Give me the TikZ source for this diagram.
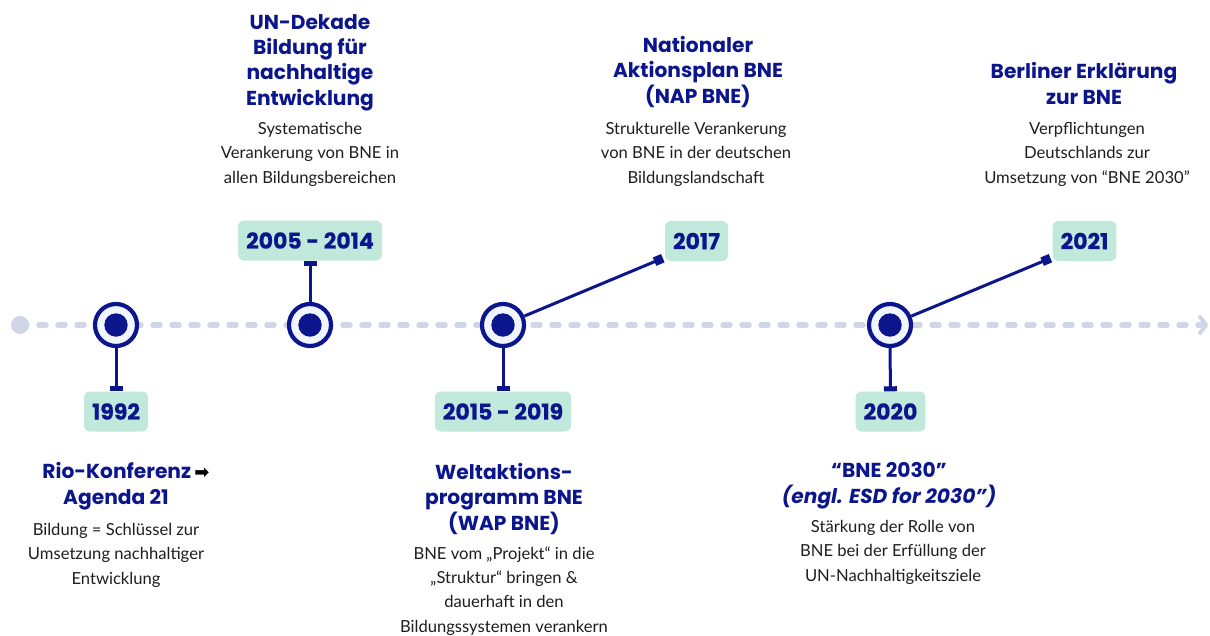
\documentclass[tikz,border=0pt]{standalone}
\usepackage{fontspec}
\setmainfont{Poppins}
\newfontfamily\bodyfont{Lato}
\newfontfamily\heavyfont{Poppins}[BoldFeatures={FakeBold=0.5}]
\newfontfamily\symfont{DejaVu Sans}
\usetikzlibrary{arrows.meta,calc}
\definecolor{navy}{RGB}{12,22,140}
\definecolor{mint}{RGB}{192,233,220}
\definecolor{dashgray}{RGB}{208,213,232}
\definecolor{ringfill}{RGB}{240,245,255}
\definecolor{bodytext}{RGB}{30,30,30}
\begin{document}
\begin{tikzpicture}[x=1pt,y=-1pt,
  title/.style={font=\fontsize{20.2}{25.3}\selectfont\bfseries, text=navy, align=center, anchor=base, inner sep=0pt},
  desc/.style={font=\bodyfont\fontsize{16.6}{24.2}\selectfont, text=bodytext, align=center, anchor=base, inner sep=0pt},
  yearbox/.style={fill=mint, rounded corners=6pt, text=navy, font=\heavyfont\fontsize{22}{22}\selectfont\bfseries, minimum height=40pt, inner xsep=8pt, inner ysep=0pt},
  ring/.style={circle, draw=navy, line width=4.2pt, fill=ringfill, minimum size=42pt, inner sep=0pt},
  dot/.style={circle, fill=navy, minimum size=23.4pt, inner sep=0pt},
  stem/.style={draw=navy, line width=3pt, -{Square[length=5pt,width=13pt]}},
  slant/.style={draw=navy, line width=3pt, -{Square[length=9pt,width=9pt]}},
  timeline/.style={draw=dashgray, line width=5.5pt, line cap=round, dash pattern=on 7pt off 12pt, -{Straight Barb[length=6pt,width=16pt,line width=4pt,round]}}
]
\useasboundingbox[fill=white] (0,0) rectangle (1210,635);

% timeline
\node[circle, fill=dashgray, minimum size=18pt, inner sep=0pt] (start) at (20,325) {};
\coordinate (tend) at (1208,325);
\draw[timeline] (start.center) -- (tend);

% year boxes
\node[yearbox] (y1992) at (116,411.5) {1992};
\node[yearbox] (y2005) at (310,240.5) {2005 - 2014};
\node[yearbox] (y2015) at (503,411.5) {2015 - 2019};
\node[yearbox] (y2017) at (696.5,241) {2017};
\node[yearbox] (y2020) at (890.5,411.5) {2020};
\node[yearbox] (y2021) at (1084.5,241) {2021};

% milestones
\node[ring] (c1) at (116,325) {};
\node[ring] (c2) at (310,325) {};
\node[ring] (c3) at (503,325) {};
\node[ring] (c4) at (890,325) {};
\node[dot] (k1) at (c1) {};
\node[dot] (k2) at (c2) {};
\node[dot] (k3) at (c3) {};
\node[dot] (k4) at (c4) {};

\coordinate (e2017) at ($(y2017.south west)+(-2,-3)$);
\coordinate (e2021) at ($(y2021.south west)+(-2,-3)$);

\draw[stem] (c1.south) -- (y1992.north);
\draw[stem] (c2.north) -- (y2005.south);
\draw[stem] (c3.south) -- (y2015.north);
\draw[stem] (c4.south) -- (y2020.north);
\draw[slant] (c3) -- (e2017);
\draw[slant] (c4) -- (e2021);

% texts (anchored at the baseline of the last line)
\node[title] (t1) at (116,504) {\hspace*{20pt}Rio-Konferenz\,{\symfont\fontsize{18}{18}\selectfont\color{black}➡}\\Agenda 21};
\node[desc] (d1) at (116,584) {Bildung = Schlüssel zur\\Umsetzung nachhaltiger\\Entwicklung};

\node[title] (t2) at (310,105) {UN-Dekade\\Bildung für\\nachhaltige\\Entwicklung};
\node[desc] (d2) at (310,183) {Systematische\\Verankerung von BNE in\\allen Bildungsbereichen};

\node[title] (t3) at (504,530) {Weltaktions-\\programm BNE\\(WAP BNE)};
\node[desc] (d3) at (504,632) {BNE vom „Projekt“ in die\\„Struktur“ bringen \&\\dauerhaft in den\\Bildungssystemen verankern};

\node[title] (t4) at (698,103) {Nationaler\\Aktionsplan BNE\\(NAP BNE)};
\node[desc] (d4) at (696,183) {Strukturelle Verankerung\\von BNE in der deutschen\\Bildungslandschaft};

\node[title] (t5) at (889,503) {“BNE 2030”\\\textit{(engl. ESD for 2030”)}};
\node[desc] (d5) at (893,581) {Stärkung der Rolle von\\BNE bei der Erfüllung der\\UN-Nachhaltigkeitsziele};

\node[title] (t6) at (1084,104) {Berliner Erklärung\\zur BNE};
\node[desc] (d6) at (1087,183) {Verpflichtungen\\Deutschlands zur\\Umsetzung von “BNE 2030”};
\end{tikzpicture}
\end{document}
